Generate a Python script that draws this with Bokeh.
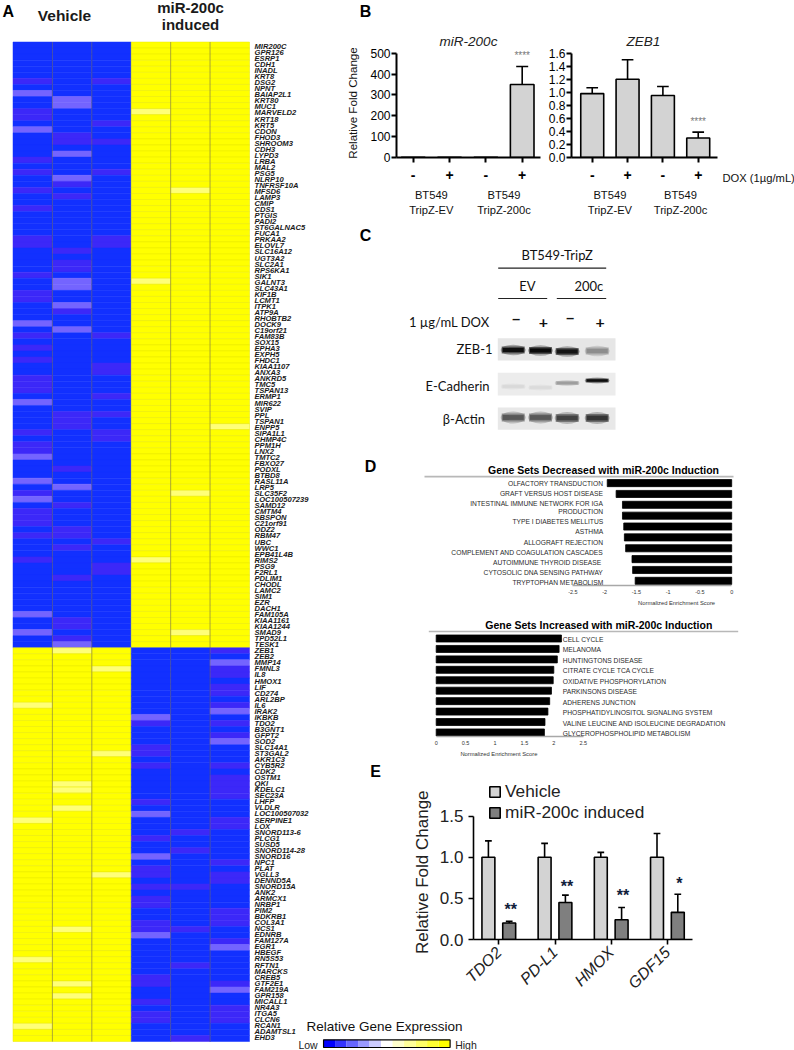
from math import pi
from bokeh.plotting import figure
from bokeh.layouts import row, column
from bokeh.models import Range1d, LinearAxis, FixedTicker, Label, NumeralTickFormatter, Legend, LegendItem
from bokeh.core.properties import value
from bokeh.embed import file_html
from bokeh.resources import INLINE

SANS = "Liberation Sans"
CAL = "Lato"

# ---------- Panel A data ----------
genes = """MIR200C GPR126 ESRP1 CDH1 INADL KRT8 DSG2 NPNT BAIAP2L1 KRT80 MUC1 MARVELD2 KRT18 KRT5 CDON FHOD3 SHROOM3 CDH3 LYPD3 LRBA MAL2 PSG5 NLRP10 TNFRSF10A MFSD6 LAMP3 CMIP CDS1 PTGIS PADI2 ST6GALNAC5 FUCA1 PRKAA2 ELOVL7 SLC16A12 UGT3A2 SLC2A1 RPS6KA1 SIK1 GALNT3 SLC43A1 KIF1B LCMT1 ITPK1 ATP9A RHOBTB2 DOCK9 C19orf21 FAM83B SOX15 EPHA3 EXPH5 FHDC1 KIAA1107 ANXA3 ANKRD5 TMC5 TSPAN13 ERMP1 MIR622 SVIP PPL TSPAN1 ENPP5 SIPA1L1 CHMP4C PPM1H LNX2 TMTC2 FBXO27 PODXL BTBD8 RASL11A LRP5 SLC35F2 LOC100507239 SAMD12 CMTM4 SBSPON C21orf91 ODZ2 RBM47 UBC WWC1 EPB41L4B RIMS2 PSG9 F2RL1 PDLIM1 CHODL LAMC2 SIM1 EZR DACH1 FAM105A KIAA1161 KIAA1244 SMAD9 TPD52L1 TESK1 ZEB1 ZEB2 MMP14 FMNL3 IL8 HMOX1 LIF CD274 ARL2BP IL6 IRAK2 IKBKB TDO2 B3GNT1 GFPT2 SOD2 SLC14A1 ST3GAL2 AKR1C3 CYB5R2 CDK2 OSTM1 QKI KDELC1 SEC23A LHFP VLDLR LOC100507032 SERPINE1 LOX SNORD113-6 PLCG1 SUSD5 SNORD114-28 SNORD16 NPC1 PLAT VGLL3 DENND5A SNORD15A ANK2 ARMCX1 NRBP1 PIM2 BDKRB1 COL3A1 NCS1 EDNRB FAM127A EGR1 HBEGF RN5S53 RFTN1 MARCKS CREB5 GTF2E1 FAM219A GPR158 MICALL1 NR4A3 ITGA5 CLCN6 RCAN1 ADAMTSL1 EHD3""".split()
down_genes = 100   # rows in the upper block
weak = [
    [6,11,12,19,21,24,27,32,33,38,41,42,48,50,52,55,56,57,64,66,67,74,77,78,79,81,85],
    [15,16,23,25,34,36,37,44,61,62,63,70,76,80,81,83,88,95,96,98],
    [6,13,16,21,32,33,48,53,54,58,61,64,65,82,86,87],
    [112,116,117,119,125,131,136,137,139,141,142,145,146,154,155,158,160,161],
    [130,133,139,146,152,164],
    [100,103,104,106,107,109,112,114,119,121,122,123,124,128,129,135,137,138,143,144,145,148,155,159,160,161],
]
strong = [
    [8,14,46,59,68,72,75,94,97],
    [9,10,18,22,39,40,43,47,73,99],
    [],
    [111,127,134,147],
    [],
    [102,110,115,149,156],
]
light = [
    [109,128,151,162],
    [100,122,123,126,146,155,157],
    [103,117,137],
    [11,39,85],
    [24,74,97],
    [63],
]

# ---------- Panel B data ----------
dox_labels = ["-", "+", "-", "+"]
mir200c_mean = [1, 1, 1, 350]
mir200c_err = [0, 0, 0, 86]
zeb1_mean = [0.98, 1.20, 0.95, 0.30]
zeb1_err = [0.09, 0.30, 0.14, 0.09]

# ---------- Panel C data (band strength by lane) ----------
zeb1_band = [0.95, 0.97, 0.92, 0.38]
ecad_band = [0.04, 0.03, 0.30, 0.95]
actin_band = [0.62, 0.62, 0.72, 0.78]

# ---------- Panel D data ----------
dec_names = ["OLFACTORY TRANSDUCTION", "GRAFT VERSUS HOST DISEASE", "INTESTINAL IMMUNE NETWORK FOR IGA", "PRODUCTION",
             "TYPE I DIABETES MELLITUS", "ASTHMA", "ALLOGRAFT REJECTION", "COMPLEMENT AND COAGULATION CASCADES",
             "AUTOIMMUNE  THYROID DISEASE", "CYTOSOLIC DNA SENSING PATHWAY", "TRYPTOPHAN METABOLISM"]
dec_nes = [-1.96, -1.82, -1.72, -1.72, -1.70, -1.69, -1.67, -1.57, -1.56, -1.52]
inc_names = ["CELL CYCLE", "MELANOMA", "HUNTINGTONS DISEASE", "CITRATE  CYCLE TCA CYCLE", "OXIDATIVE  PHOSPHORYLATION",
             "PARKINSONS DISEASE", "ADHERENS  JUNCTION", "PHOSPHATIDYLINOSITOL  SIGNALING SYSTEM",
             "VALINE  LEUCINE AND ISOLEUCINE  DEGRADATION", "GLYCEROPHOSPHOLIPID METABOLISM"]
inc_nes = [2.13, 2.09, 2.06, 2.00, 1.99, 1.96, 1.93, 1.90, 1.85, 1.84]

# ---------- Panel E data ----------
e_genes = ["TDO2", "PD-L1", "HMOX", "GDF15"]
vehicle_mean = [1.0, 1.0, 1.0, 1.0]
vehicle_err = [0.20, 0.17, 0.06, 0.29]
induced_mean = [0.20, 0.45, 0.24, 0.33]
induced_err = [0.02, 0.09, 0.15, 0.22]
e_stars = ["**", "**", "**", "*"]

# ---------- Colour key ----------
key_colors = ["#0000ff", "#3333ff", "#6666ff", "#9999ff", "#ccccff", "#ffffff",
              "#ffffcc", "#ffff99", "#ffff66", "#ffff33", "#ffff00"]

RIGHT0 = 318   # left edge of the right-hand column on the page
KEY0 = 296     # left edge of the colour key, which reaches under the gene names
frames = {}


def panel(px0, py0, px1, py1, L, R, T, B, xr, yr, margin=(0, 0, 0, 0)):
    """A figure covering page box (px0,py0)-(px1,py1) with its frame at (L,R,T,B)."""
    f = figure(width=px1 - px0, height=py1 - py0, x_range=Range1d(*xr), y_range=Range1d(*yr),
               x_axis_type=None, y_axis_type=None, output_backend="svg", toolbar_location=None, tools="",
               min_border_left=L - px0, min_border_right=px1 - R, min_border_top=T - py0, min_border_bottom=py1 - B,
               outline_line_color=None, background_fill_color=None, border_fill_color=None, margin=margin,
               frame_align=False)
    frames[id(f)] = (L, R, T, B)
    return f


def full(px0, py0, px1, py1):
    """A text/drawing panel whose data coordinates are page pixels."""
    return panel(px0, py0, px1, py1, px0, px1, py0, py1, (px0, px1), (py1, py0))


def put(f, px, py, text, size, color="black", font=SANS, style="normal", align="left", base="middle", angle=0):
    """Add a text label at a page position (inside the frame)."""
    L, R, T, B = frames[id(f)]
    xs, xe = f.x_range.start, f.x_range.end
    ys, ye = f.y_range.start, f.y_range.end
    x = xs + (px - L) / (R - L) * (xe - xs)
    y = ye + (py - T) / (B - T) * (ys - ye)
    f.add_layout(Label(x=x, y=y, text=text, text_font=font, text_font_size=f"{size}px", text_font_style=style,
                       text_color=color, text_align=align, text_baseline=base, angle=angle))


def style_axis(ax, size, color="black", lw=2, tick=5, fstyle="normal"):
    ax.axis_line_color = color
    ax.axis_line_width = lw
    ax.major_tick_line_color = color
    ax.major_tick_line_width = lw
    ax.major_tick_out = tick
    ax.major_tick_in = 0
    ax.minor_tick_line_color = None
    ax.major_label_text_font = SANS
    ax.major_label_text_font_size = f"{size}px"
    ax.major_label_text_color = "black"
    ax.major_label_text_font_style = fstyle


def text_axis(f, ticks, names, size, standoff, color="#111111"):
    """An extra, bare axis below the figure that only carries text."""
    ax = LinearAxis(ticker=FixedTicker(ticks=ticks), major_label_overrides=dict(zip(ticks, names)))
    style_axis(ax, size)
    ax.axis_line_color = None
    ax.major_tick_line_color = None
    ax.major_tick_out = 0
    ax.major_label_standoff = standoff
    ax.major_label_text_color = color
    f.add_layout(ax, "below")
    return ax


def error_bars(f, x, top, err, cap, lw=1.6):
    hi = [t + e for t, e in zip(top, err)]
    keep = [i for i, e in enumerate(err) if e > 0]
    xk = [x[i] for i in keep]
    f.segment(xk, [top[i] for i in keep], xk, [hi[i] for i in keep], line_color="black", line_width=lw)
    f.segment([v - cap for v in xk], [hi[i] for i in keep], [v + cap for v in xk], [hi[i] for i in keep],
              line_color="black", line_width=lw)


# ---------- Panel A ----------
HL, HR, HT, HB = 12.5, 249.0, 41.5, 1041.0
n_rows = len(genes)
cw = (HR - HL) / 6
rh = (HB - HT) / n_rows
a = panel(0, 0, RIGHT0, 1050, 0, RIGHT0, 0, 1050,
          (-HL / cw, (RIGHT0 - HL) / cw), ((1050 - HT) / rh, -HT / rh))
BLUE, BLUE1, BLUE2, YEL, YEL2 = "#1230ff", "#3c28f8", "#7464ff", "#ffff00", "#ffff78"
cx, cy, fc, lc = [], [], [], []
for c_i in range(6):
    for r in range(n_rows):
        is_blue = (r < down_genes) == (c_i < 3)
        if is_blue:
            col = BLUE2 if r in strong[c_i] else BLUE1 if r in weak[c_i] else BLUE
            ln = col
        else:
            col = YEL2 if r in light[c_i] else YEL
            ln = "#e8e800"
        cx.append(c_i + 0.5); cy.append(r + 0.5); fc.append(col); lc.append(ln)
a.rect(cx, cy, width=1, height=1, fill_color=fc, line_color=lc, line_width=0.5)
a.segment([1, 2, 4, 5], [0] * 4, [1, 2, 4, 5], [n_rows] * 4, line_color="#706850", line_alpha=0.5, line_width=1)
lab_x = [(254 - HL) / cw] * n_rows
lab_y = [(46.0 + 6.043 * i - HT) / rh for i in range(n_rows)]
a.text(lab_x, lab_y, text=genes, text_font=value(SANS), text_font_size="7.6px", text_font_style="bold italic",
       text_color="#1a1a1a", text_baseline="middle", text_align="left")
put(a, 2, 11, "A", 16, style="bold")
put(a, 64, 15, "Vehicle", 15.5, style="bold", align="center", color="#1a1a1a")
put(a, 190, 7, "miR-200c", 15, style="bold", align="center", color="#1a1a1a")
put(a, 190, 24, "induced", 15, style="bold", align="center", color="#1a1a1a")

# ---------- Panel B ----------
head = full(RIGHT0, 0, 794, 48)
put(head, 365, 11, "B", 16, style="bold", align="center")
put(head, 468, 41, "miR-200c", 13.5, style="italic", align="center", color="#222222")
put(head, 643, 41, "ZEB1", 13.5, style="italic", align="center", color="#222222")


def bar_panel(px0, px1, L, R, tick0, step, ymax, yticks, fmt, mean, err, star_y):
    T, B = 48, 157
    xr = ((L - tick0) / step, (R - tick0) / step)
    top = ymax * (B - T) / (B - 52.7)
    f = panel(px0, 48, px1, 225, L, R, T, B, xr, (0, top))
    x = list(range(4))
    f.vbar(x, width=0.65, top=mean, bottom=0, fill_color="#d3d3d3", line_color="black", line_width=1.6)
    error_bars(f, x, mean, err, 0.165)
    yax = LinearAxis(ticker=FixedTicker(ticks=yticks), bounds=(0, ymax))
    if fmt:
        yax.formatter = NumeralTickFormatter(format=fmt)
    style_axis(yax, 12)
    yax.major_label_standoff = 1
    f.add_layout(yax, "left")
    xax = LinearAxis(ticker=FixedTicker(ticks=x), major_label_overrides={i: s for i, s in enumerate(dox_labels)})
    style_axis(xax, 14, fstyle="bold")
    xax.major_label_standoff = 7
    f.add_layout(xax, "below")
    text_axis(f, [0.5, 2.5], ["BT549", "BT549"], 11.2, 6)
    text_axis(f, [0.5, 2.5], ["TripZ-EV", "TripZ-200c"], 11.2, 0)
    put(f, tick0 + 3 * step, star_y, "****", 10, align="center", color="#777777")
    return f, yax


b1, b1y = bar_panel(RIGHT0, 545, 396, 540, 412.7, 36.33, 500, [0, 100, 200, 300, 400, 500], None,
                    mir200c_mean, mir200c_err, 55)
b1y.axis_label = "Relative Fold Change"
b1y.axis_label_text_font = SANS
b1y.axis_label_text_font_style = "normal"
b1y.axis_label_text_font_size = "11.6px"
b1y.axis_label_text_color = "#111111"
b1y.axis_label_standoff = 8
b2, _ = bar_panel(545, 720, 567, 717, 588.3, 36.3, 1.6, [0, .2, .4, .6, .8, 1, 1.2, 1.4, 1.6], "0.0",
                  zeb1_mean, zeb1_err, 121)
dox = full(720, 48, 794, 225)
put(dox, 722, 177, "DOX (1µg/mL)", 11.2, color="#111111")

# ---------- Panel C ----------
c = full(RIGHT0, 225, 794, 445)
put(c, 365, 235, "C", 16, style="bold", align="center")
put(c, 556.7, 254.7, "BT549-TripZ", 13, font=CAL, align="center", color="#111111")
c.segment([497.7, 497.7, 556.3], [267.7, 298, 298], [605.7, 546.7, 605.7], [267.7, 298, 298], line_color="#222222", line_width=1.2)
put(c, 527, 285, "EV", 13, font=CAL, align="center", color="#111111")
put(c, 588.3, 285, "200c", 13, font=CAL, align="center", color="#111111")
put(c, 489, 321, "1 µg/mL DOX", 13, font=CAL, align="right", color="#111111")
lanes = [512.7, 540.0, 566.7, 596.7]
for x, s, y in zip(lanes, ["−", "+", "−", "+"], [319, 322, 318, 322]):
    put(c, x + 3, y, s, 16, font=CAL, style="bold", align="center", color="#111111")
put(c, 492, 348.3, "ZEB-1", 13, font=CAL, align="right", color="#111111")
put(c, 489, 385, "E-Cadherin", 13, font=CAL, align="right", color="#111111")
put(c, 484.5, 418.3, "β-Actin", 13, font=CAL, align="right", color="#111111")
c.quad(left=[497.3] * 3, right=[615] * 3, top=[337.7, 372.3, 407], bottom=[360, 395, 429.3],
       fill_color=["#e6e6e6", "#ececec", "#e8e8e8"], line_color=None)


def bands(strength, ys, h):
    for x, s, y in zip(lanes, strength, ys):
        g = int(225 * (1 - s))
        col = f"#{g:02x}{g:02x}{g:02x}"
        c.ellipse([x], [y], width=25, height=h * 1.5, fill_color=col, fill_alpha=0.3, line_color=None)
        c.rect([x], [y], width=23, height=h, fill_color=col, fill_alpha=0.55, line_color=None)
        c.rect([x], [y], width=21, height=h * 0.6, fill_color=col, fill_alpha=0.95, line_color=None)


bands(zeb1_band, [349.5, 350, 351, 350.5], 7)
bands(ecad_band, [386, 387, 382.5, 380], 4)
bands(actin_band, [417, 417, 417.5, 417.5], 8)


# ---------- Panel D ----------
def d_panel(py0, py1, title, tcx, ty, rule, names, nes, x0, pxu, axis_y, y0, pitch, ticks, tick_names,
            name_x, name_y, align, bw, ax_name_x):
    L, R = 340, 790
    B = axis_y
    xr = ((L - x0) / pxu, (R - x0) / pxu)
    yr = ((B - y0) / pitch, (py0 - y0) / pitch)
    f = panel(RIGHT0, py0, 794, py1, L, R, py0, B, xr, yr)
    idx = list(range(len(nes)))
    f.hbar(idx, height=bw / pitch, left=[0] * len(nes), right=nes, fill_color="black", line_color="black", line_width=0.8)
    rx0, rx1, ry = rule
    f.segment([(rx0 - x0) / pxu], [(ry - y0) / pitch], [(rx1 - x0) / pxu], [(ry - y0) / pitch],
              line_color="#b8b8b8", line_width=1.6)
    ax = LinearAxis(ticker=FixedTicker(ticks=ticks), major_label_overrides=dict(zip(ticks, tick_names)),
                    bounds=(min(ticks), max(ticks)))
    style_axis(ax, 5.5, color="#a8a8a8", lw=1.4, tick=0)
    ax.major_label_standoff = 4
    ax.major_label_text_color = "#333333"
    f.add_layout(ax, "below")
    text_axis(f, [(ax_name_x - x0) / pxu], ["Normalized  Enrichment  Score"], 5.8, 3, color="#333333")
    put(f, tcx, ty, title, 10.5, style="bold", align="center")
    for n, y in zip(names, name_y):
        put(f, name_x, y, n, 6.7, color="#2a2a2a", align=align)
    return f


d1 = d_panel(445, 608, "Gene Sets Decreased with miR-200c Induction", 603, 470.7, (424, 733, 477), dec_names, dec_nes,
             731.2, 63.5, 589, 483.67, 11.17, [-2.5, -2, -1.5, -1, -0.5, 0], ["-2.5", "-2", "-1.5", "-1", "-0.5", "0"],
             602.7, [483.7, 494.4, 504.7, 513, 523, 533.3, 544.3, 554.7, 565, 575.7, 586], "right", 7.3, 677.7)
put(d1, 370, 467, "D", 16, style="bold", align="center")

d2 = d_panel(608, 760, "Gene Sets Increased with miR-200c Induction", 598.3, 624.3, (428.3, 737.7, 631), inc_names, inc_nes,
             435.7, 58.8, 736, 638, 10.44, [0, 0.5, 1, 1.5, 2, 2.5], ["0", "0.5", "1", "1.5", "2", "2.5"],
             562.3, [638.7, 649, 659.7, 670, 680.7, 691, 701.7, 712, 722.7, 733], "left", 7, 500)

# ---------- Panel E ----------
e_side = full(RIGHT0, 760, 435, 1015)
put(e_side, 375, 771, "E", 16, style="bold", align="center")
put(e_side, 421.7, 871.7, "Relative Fold Change", 17, align="center", angle=pi / 2, color="#222222")

e_step, e_x0 = 56.2, 498.3
eT, eB = 760, 939
e = panel(435, 760, 794, 1015, 473, 692, eT, eB,
          ((473 - e_x0) / e_step, (692 - e_x0) / e_step), (0, 1.5 * (eB - eT) / (eB - 815.7)))
gx = list(range(4))
vx = [g - 0.185 for g in gx]
ix = [g + 0.185 for g in gx]
r_v = e.vbar(vx, width=0.23, top=vehicle_mean, bottom=0, fill_color="#d3d3d3", line_color="black", line_width=1.6)
r_i = e.vbar(ix, width=0.23, top=induced_mean, bottom=0, fill_color="#7f7f7f", line_color="black", line_width=1.6)
error_bars(e, vx, vehicle_mean, vehicle_err, 0.06)
error_bars(e, ix, induced_mean, induced_err, 0.06)
ey = LinearAxis(ticker=FixedTicker(ticks=[0, 0.5, 1, 1.5]), formatter=NumeralTickFormatter(format="0.0"), bounds=(0, 1.5))
style_axis(ey, 17, lw=1.6)
ey.major_label_text_color = "#222222"
e.add_layout(ey, "left")
ex = LinearAxis(ticker=FixedTicker(ticks=gx), major_label_overrides=dict(zip(gx, e_genes)))
style_axis(ex, 16, lw=1.6, fstyle="italic")
ex.major_label_orientation = pi / 4
ex.major_label_text_color = "#222222"
e.add_layout(ex, "below")
for x, s, st in zip(ix, e_stars, [909, 886, 895, 883]):
    put(e, e_x0 + x * e_step + 1.5, st, s, 16, style="bold", align="center", color="#10203a")
leg = Legend(items=[LegendItem(label="Vehicle", renderers=[r_v]), LegendItem(label="miR-200c induced", renderers=[r_i])],
             location=(15, 116), background_fill_alpha=0, border_line_color=None, label_text_font=SANS,
             label_text_font_size="17.3px", label_text_color="#222222", glyph_width=13, glyph_height=13,
             padding=0, margin=0, spacing=0, label_standoff=4, label_height=15)
e.add_layout(leg)

# ---------- Colour key ----------
kL, kR = 324.3, 456.7
kw = (kR - kL) / len(key_colors)
k = panel(KEY0, 1015, 794, 1050, KEY0, 794, 1015, 1050,
          ((KEY0 - kL) / kw, (794 - kL) / kw), (1050, 1015), margin=(0, 0, 0, KEY0 - RIGHT0))
lev = list(range(len(key_colors)))
k.quad(left=lev, right=[i + 1 for i in lev], top=[1039.3] * 11, bottom=[1047] * 11, fill_color=key_colors, line_color=None)
k.quad(left=[0], right=[len(key_colors)], top=[1039.3], bottom=[1047], fill_color=None, line_color="black", line_width=1.2)
put(k, 388, 1026, "Relative Gene Expression", 13.5, align="center", color="#111111")
put(k, 298, 1044, "Low", 10.5, color="#222222")
put(k, 462, 1044, "High", 10.5, color="#222222")

right = column(head, row(b1, b2, dox, spacing=0), c, d1, d2, row(e_side, e, spacing=0), k, spacing=0)
root = row(a, right, spacing=0)
open("out.html", "w").write(file_html(root, INLINE))
